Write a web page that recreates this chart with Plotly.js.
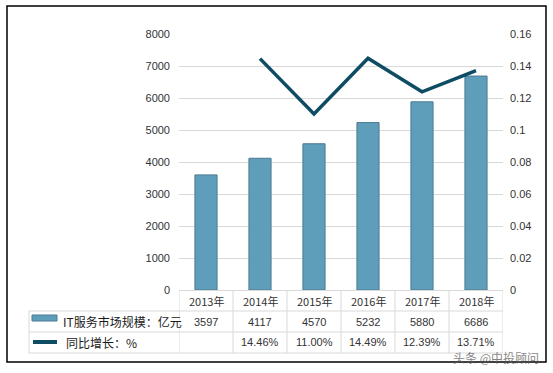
<!DOCTYPE html>
<html><head><meta charset="utf-8">
<script src="https://cdn.plot.ly/plotly-3.0.1.min.js"></script>
<style>html,body{margin:0;padding:0;background:#fff}#c{width:553px;height:373px}</style>
</head><body><div id="c"></div>
<script>
const years = ['2013年','2014年','2015年','2016年','2017年','2018年'];
const scale = [3597, 4117, 4570, 5232, 5880, 6686];
const growth = [null, 0.1446, 0.1100, 0.1449, 0.1239, 0.1371];
const growthLabels = ['', '14.46%', '11.00%', '14.49%', '12.39%', '13.71%'];
const seriesNames = ['IT服务市场规模：亿元', '同比增长：%'];

const W = 553, H = 373, L = 179, R = 503, T = 34, B = 290;
const px = x => (x - L) / (R - L);
const py = y => (B - y) / (B - T);
const grid = '#d9d9d9';
const txt = '#333333';
const fnt = 'Liberation Sans, Arial, sans-serif';
const cjk = 'Noto Sans CJK SC, sans-serif';

const traces = [
  {type:'bar', x: years.map((_,i)=>i), y: scale, name: seriesNames[0], width: 0.41,
   marker:{color:'#5e9ebb', line:{color:'#4a7a90', width:1}}, hoverinfo:'skip'},
  {type:'scatter', mode:'lines', x: years.map((_,i)=>i), y: growth, yaxis:'y2', name: seriesNames[1],
   line:{color:'#0e4c63', width:3.5}, connectgaps:false, hoverinfo:'skip'}
];

const shapes = [];
shapes.push({type:'rect', xref:'paper', yref:'paper', x0:px(7), x1:px(546), y0:py(6), y1:py(362),
  line:{color:'#000', width:1.5}, layer:'below'});
for (let i=0;i<=years.length;i++){
  shapes.push({type:'line', xref:'x', yref:'paper', x0:i-0.5, x1:i-0.5, y0:py(290), y1:py(353), line:{color:grid,width:1}});
}
shapes.push({type:'line', xref:'paper', yref:'paper', x0:px(29), x1:px(29), y0:py(311), y1:py(353), line:{color:grid,width:1}});
[311, 332, 353].forEach(yy=>{
  shapes.push({type:'line', xref:'paper', yref:'paper', x0:px(29), x1:px(503), y0:py(yy), y1:py(yy), line:{color:grid,width:1}});
});
shapes.push({type:'rect', xref:'paper', yref:'paper', x0:px(32), x1:px(57), y0:py(315), y1:py(321),
  fillcolor:'#5e9ebb', line:{color:'#4a7a90', width:1}});
shapes.push({type:'line', xref:'paper', yref:'paper', x0:px(33), x1:px(57), y0:py(342), y1:py(342),
  line:{color:'#0e4c63', width:4}});

const annotations = [];
annotations.push({xref:'paper', yref:'paper', x:px(61), y:py(321), xanchor:'left', yanchor:'middle', showarrow:false,
  text: seriesNames[0], font:{family:cjk, size:12, color:'#1a1a1a'}});
annotations.push({xref:'paper', yref:'paper', x:px(64), y:py(342), xanchor:'left', yanchor:'middle', showarrow:false,
  text: seriesNames[1], font:{family:cjk, size:12, color:'#1a1a1a'}});
years.forEach((yr,i)=>{
  annotations.push({xref:'x', yref:'paper', x:i, y:py(300.5), showarrow:false, yanchor:'middle',
    text: yr, font:{family:cjk, size:11, color:txt}});
  annotations.push({xref:'x', yref:'paper', x:i, y:py(321.5), showarrow:false, yanchor:'middle',
    text: String(scale[i]), font:{family:fnt, size:11, color:txt}});
  if (growthLabels[i]) annotations.push({xref:'x', yref:'paper', x:i, y:py(342), showarrow:false, yanchor:'middle',
    text: growthLabels[i], font:{family:fnt, size:11, color:txt}});
});
annotations.push({xref:'paper', yref:'paper', x:px(541), y:py(357), xanchor:'right', yanchor:'middle', showarrow:false,
  text:'头条 @中投顾问', font:{family:cjk, size:12, color:'rgba(90,90,90,0.75)'}});

const layout = {
  width: W, height: H,
  margin:{l:L, r:W-R, t:T, b:H-B, pad:0},
  paper_bgcolor:'#fff', plot_bgcolor:'#fff',
  showlegend:false,
  xaxis:{type:'linear', range:[-0.5, 5.5], showgrid:false, zeroline:false, showticklabels:false,
    showline:true, linecolor:grid, linewidth:1, ticks:'', fixedrange:true},
  yaxis:{range:[0,8000], dtick:1000, showgrid:true, gridcolor:grid, gridwidth:1, zeroline:false,
    tickfont:{family:fnt, size:11, color:txt}, ticks:'', ticklabelstandoff:8, fixedrange:true},
  yaxis2:{range:[0,0.16], dtick:0.02, overlaying:'y', side:'right', showgrid:false, zeroline:false,
    tickfont:{family:fnt, size:11, color:txt}, ticks:'', ticklabelstandoff:6, tickformat:'~g', fixedrange:true},
  bargap:0.59,
  shapes, annotations
};
Plotly.newPlot('c', traces, layout, {displayModeBar:false, staticPlot:true});
</script></body></html>
